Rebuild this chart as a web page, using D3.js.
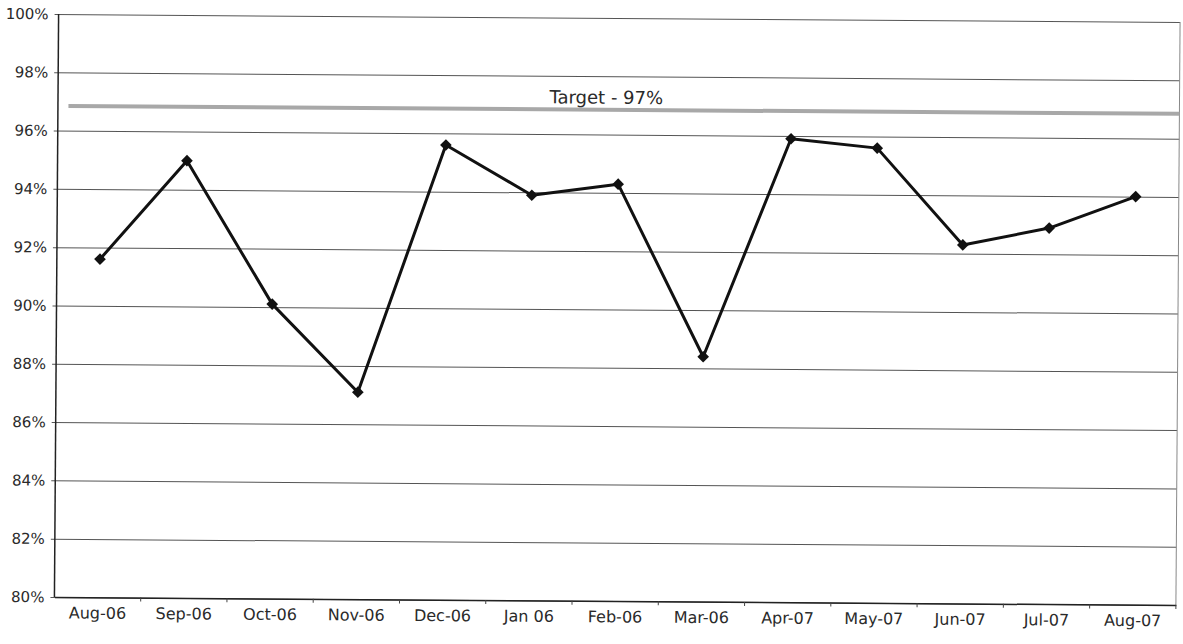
<!DOCTYPE html>
<html>
<head>
<meta charset="utf-8">
<script src="https://cdn.jsdelivr.net/npm/d3@7"></script>
<style>
  body { margin: 0; background: #fff; }
  svg text { font-family: "DejaVu Sans", sans-serif; fill: #2a2a2a; }
</style>
</head>
<body>
<div id="chart"></div>
<script>
// monthly values
const months = ["Aug-06", "Sep-06", "Oct-06", "Nov-06", "Dec-06", "Jan 06", "Feb-06",
                "Mar-06", "Apr-07", "May-07", "Jun-07", "Jul-07", "Aug-07"];
const values = [91.6, 95.0, 90.1, 87.1, 95.6, 93.9, 94.3, 88.4, 95.9, 95.6, 92.3, 92.9, 94.0];
const yTicks = [80, 82, 84, 86, 88, 90, 92, 94, 96, 98, 100];
const target = 96.85; // where the target band sits in the scan
const targetLabel = "Target - 97%";

const W = 1183, H = 644;
const mLeft = 56.5, mRight = 1178, mTop = 18, mBottom = 601;
const plotW = mRight - mLeft;

const svg = d3.select("#chart").append("svg").attr("width", W).attr("height", H);
// the scan is tilted a little clockwise, so tilt the whole chart the same way
const g = svg.append("g").attr("transform", "rotate(0.41, 616, 309.5)");

const x = d3.scaleBand().domain(months).range([mLeft, mRight]);
const y = d3.scaleLinear().domain([80, 100]).range([mBottom, mTop]);

// gridlines + y labels (grid lines poke 4px out past the axis like ticks)
const yAxis = g.append("g").attr("transform", "translate(" + (mLeft - 4) + ",0)")
  .call(d3.axisLeft(y).tickValues(yTicks).tickSize(-(plotW + 4)).tickPadding(6)
    .tickFormat(d => d + "%"));
yAxis.select(".domain").remove();
yAxis.selectAll("line").attr("stroke", "#555").attr("stroke-width", 1);
yAxis.selectAll("text").attr("font-size", 15);

// right border of the plot area
g.append("line").attr("x1", mRight).attr("x2", mRight).attr("y1", mTop).attr("y2", mBottom)
  .attr("stroke", "#888").attr("stroke-width", 1);

// left axis line
g.append("line").attr("x1", mLeft).attr("x2", mLeft).attr("y1", mTop).attr("y2", mBottom)
  .attr("stroke", "#222").attr("stroke-width", 1.5);

// x axis: labels centred on months, tick marks between them
const xAxis = g.append("g").attr("transform", "translate(0," + mBottom + ")")
  .call(d3.axisBottom(x).tickSize(0).tickPadding(10));
xAxis.select(".domain").attr("stroke", "#222").attr("stroke-width", 1.5);
xAxis.selectAll("text").attr("font-size", 16);
g.append("g").selectAll("line").data(months.slice(1).concat(["end"])).enter().append("line")
  .attr("x1", d => d === "end" ? mRight : x(d)).attr("x2", d => d === "end" ? mRight : x(d))
  .attr("y1", mBottom).attr("y2", mBottom + 4)
  .attr("stroke", "#444").attr("stroke-width", 1);

// target band
g.append("line").attr("x1", 67).attr("x2", mRight).attr("y1", y(target)).attr("y2", y(target))
  .attr("stroke", "#a8a8a8").attr("stroke-width", 4);
g.append("text").attr("x", 548).attr("y", y(target) - 6).attr("font-size", 18).text(targetLabel);

// series line + diamond markers
const data = months.map((m, i) => ({ month: m, v: values[i] }));
const cx = d => x(d.month) + x.bandwidth() / 2;
const line = d3.line().x(cx).y(d => y(d.v));
g.append("path").datum(data).attr("d", line)
  .attr("fill", "none").attr("stroke", "#111").attr("stroke-width", 3).attr("stroke-linejoin", "round");
g.append("g").selectAll("path").data(data).enter().append("path")
  .attr("d", d3.symbol(d3.symbolSquare, 68))
  .attr("transform", d => "translate(" + cx(d) + "," + y(d.v) + ") rotate(45)")
  .attr("fill", "#111");
</script>
</body>
</html>
